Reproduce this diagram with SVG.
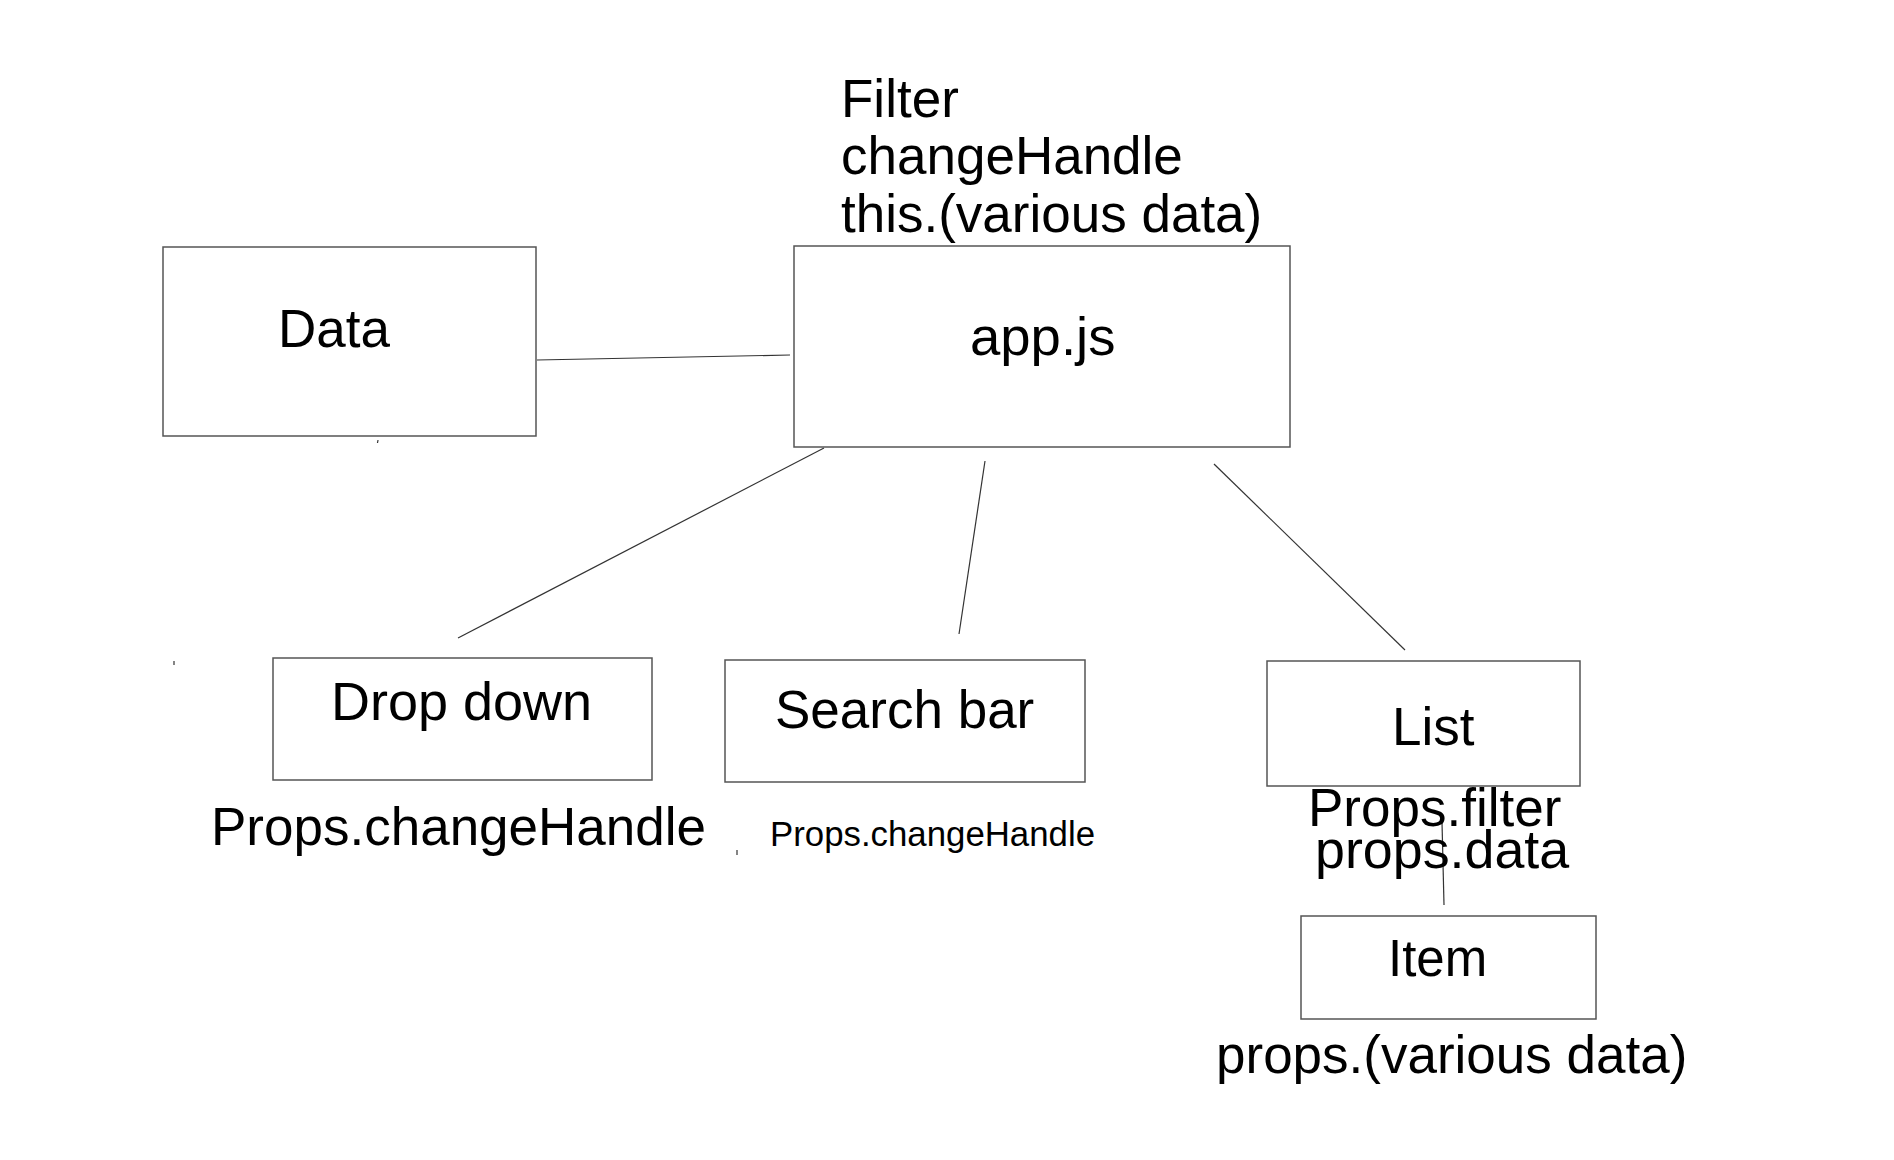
<svg xmlns="http://www.w3.org/2000/svg" width="1894" height="1160" viewBox="0 0 1894 1160">
<style>
.box{fill:#fff;stroke:#555;stroke-width:1.5}
.t{font-family:"Liberation Sans",Arial,Helvetica,sans-serif;fill:#000;font-size:53px}
.c{stroke:#333;stroke-width:1.2;fill:none}
</style>
<rect width="1894" height="1160" fill="#fff"/>
<g id="connectors">
<line class="c" x1="537" y1="360" x2="790" y2="355"/>
<line class="c" x1="824" y1="448" x2="458" y2="638"/>
<line class="c" x1="985" y1="461" x2="959" y2="634"/>
<line class="c" x1="1214" y1="464" x2="1405" y2="650"/>
<line class="c" x1="1442" y1="822" x2="1444" y2="905"/>
<line class="c" x1="378" y1="440" x2="377.5" y2="443"/>
<line class="c" x1="174" y1="661" x2="174" y2="665"/>
<line class="c" x1="737" y1="850" x2="737" y2="855"/>
</g>
<g id="app-label">
<text class="t" x="841" y="117">Filter</text>
<text class="t" x="841" y="174">changeHandle</text>
<text class="t" x="841" y="232">this.(various data)</text>
</g>
<g id="data">
<rect class="box" x="163" y="247" width="373" height="189"/>
<text class="t" x="278" y="347">Data</text>
</g>
<g id="app">
<rect class="box" x="794" y="246" width="496" height="201"/>
<text class="t" x="970" y="355" style="font-size:54.5px">app.js</text>
</g>
<g id="dropdown">
<rect class="box" x="273" y="658" width="379" height="122"/>
<text class="t" x="331" y="720" style="font-size:54px">Drop down</text>
<text class="t" x="211" y="845">Props.changeHandle</text>
</g>
<g id="searchbar">
<rect class="box" x="725" y="660" width="360" height="122"/>
<text class="t" x="775" y="728">Search bar</text>
<text class="t" x="770" y="846" style="font-size:34.8px">Props.changeHandle</text>
</g>
<g id="list">
<rect class="box" x="1267" y="661" width="313" height="125"/>
<text class="t" x="1392" y="745">List</text>
<text class="t" x="1308" y="826">Props.filter</text>
<text class="t" x="1315" y="868" style="font-size:53.8px">props.data</text>
</g>
<g id="item">
<rect class="box" x="1301" y="916" width="295" height="103"/>
<text class="t" x="1388" y="976" style="font-size:51px">Item</text>
<text class="t" x="1216" y="1073">props.(various data)</text>
</g>
</svg>
